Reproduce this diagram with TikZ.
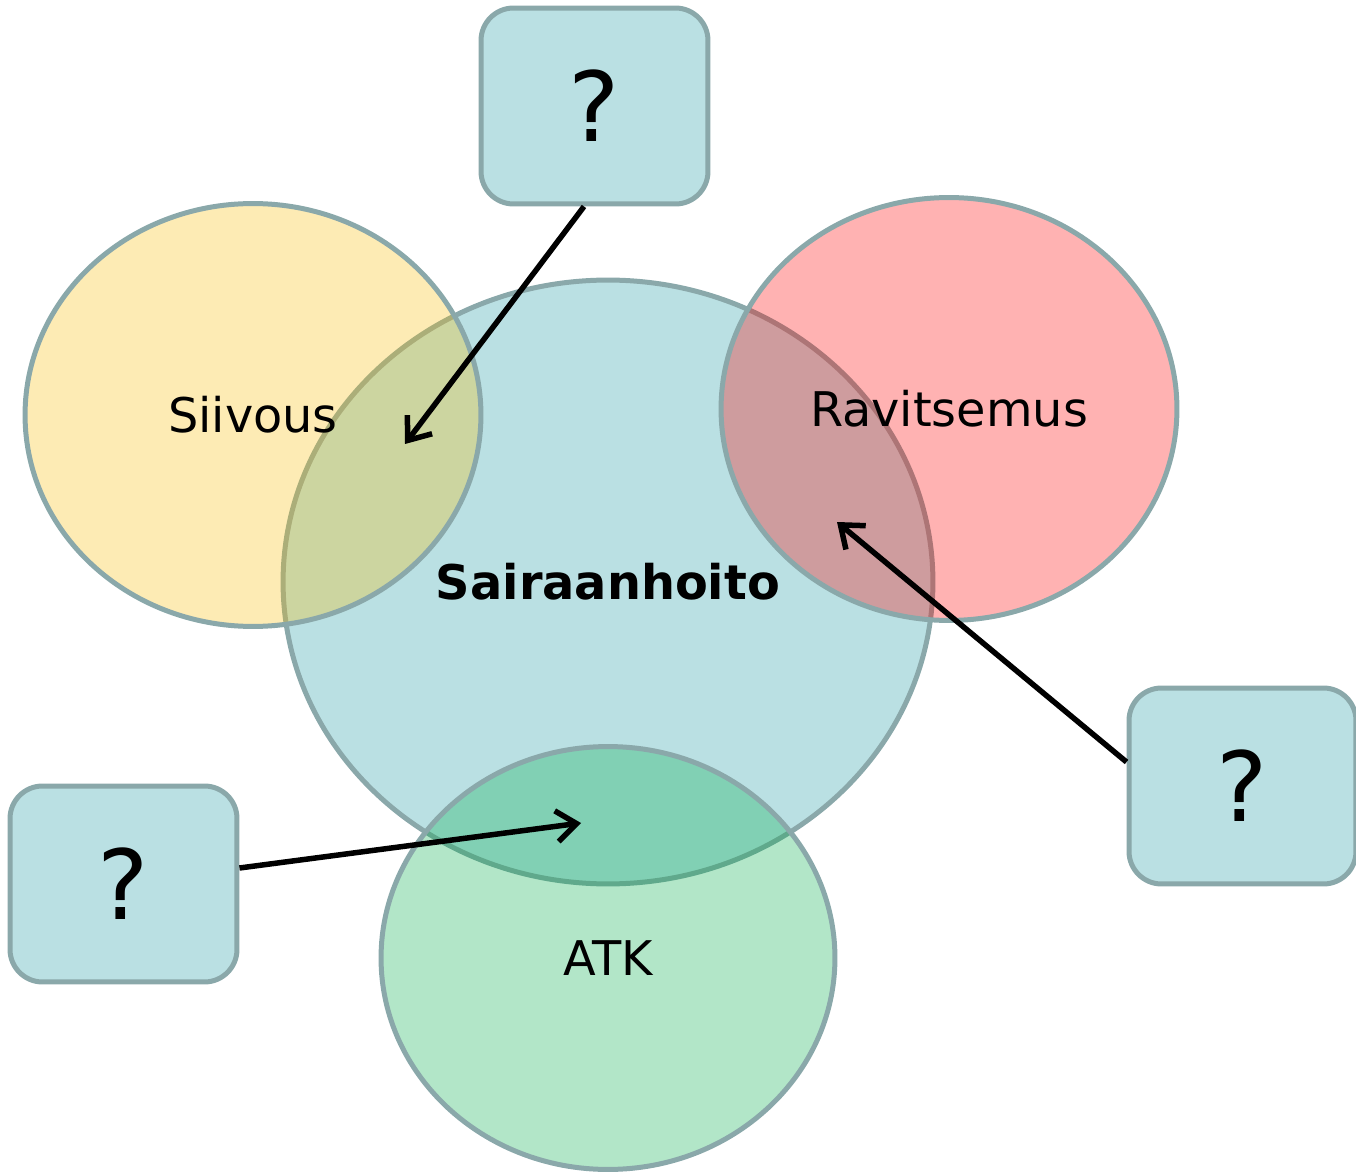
\documentclass[tikz,border=0pt]{standalone}
\usepackage{fontspec}
\setmainfont{DejaVu Sans}
\usetikzlibrary{shapes.geometric,arrows.meta}
\definecolor{edgegray}{RGB}{138,168,170}
\definecolor{skyfill}{RGB}{186,224,227}
\definecolor{yelbase}{RGB}{248,188,8}
\definecolor{grnbase}{RGB}{0,172,72}
\definecolor{redbase}{RGB}{255,0,0}
\begin{document}
\begin{tikzpicture}[x=0.02cm,y=-0.02cm,
  blob/.style={ellipse, draw=edgegray, line width=0.1cm, inner sep=0pt,
    font=\fontsize{27.2}{32}\selectfont},
  seethru/.style={fill opacity=0.3, text opacity=1},
  qbox/.style={rectangle, rounded corners=0.65cm, draw=edgegray, fill=skyfill,
    line width=0.1cm, minimum width=4.54cm, minimum height=3.92cm,
    font=\fontsize{55}{60}\selectfont},
  pointer/.style={-{Straight Barb[length=0.4cm,width=0.62cm,line width=0.11cm]}, line width=0.11cm}]
\useasboundingbox (0,0) rectangle (1356,1172);
\node[blob, fill=skyfill, minimum width=13cm, minimum height=12.08cm,
  font=\fontsize{27.2}{32}\selectfont\bfseries] (care) at (608,582) {Sairaanhoito};
\node[blob, fill=yelbase, seethru, minimum width=9.12cm, minimum height=8.46cm] (clean) at (253,415) {Siivous};
\node[blob, fill=redbase, seethru, minimum width=9.12cm, minimum height=8.46cm] (food) at (949,409) {Ravitsemus};
\node[blob, fill=grnbase, seethru, minimum width=9.08cm, minimum height=8.46cm] (it) at (608,958) {ATK};
\node[qbox] (q1) at (594.5,106) {?};
\node[qbox] (q2) at (1242.5,786) {?};
\node[qbox] (q3) at (123.5,884) {?};
\coordinate (a1) at ([xshift=-0.21cm]q1.south);
\coordinate (t1) at (405,444);
\coordinate (a2) at ([yshift=0.48cm]q2.west);
\coordinate (t2) at (837,522);
\coordinate (a3) at ([yshift=0.32cm]q3.east);
\coordinate (t3) at (581,823);
\draw[pointer] (a1) -- (t1);
\draw[pointer] (a2) -- (t2);
\draw[pointer] (a3) -- (t3);
\end{tikzpicture}
\end{document}
